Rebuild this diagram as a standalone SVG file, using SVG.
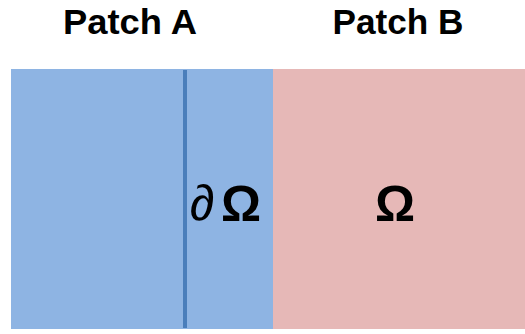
<svg xmlns="http://www.w3.org/2000/svg" width="525" height="334" viewBox="0 0 525 334">
<style>
.title{font-family:"Liberation Sans",Arial,sans-serif;font-weight:bold;font-size:35px;fill:#000;text-anchor:middle}
.sym{font-family:"Liberation Sans",Arial,sans-serif;font-size:50px;fill:#000;text-anchor:middle}
</style>
<rect width="525" height="334" fill="#fff"/>
<g id="patchA">
<rect x="11" y="69" width="262" height="260" fill="#8EB4E3"/>
<text class="title" x="130" y="34" textLength="134" lengthAdjust="spacingAndGlyphs">Patch A</text>
</g>
<g id="patchB">
<rect x="273" y="69" width="252" height="260" fill="#E6B8B7"/>
<text class="title" x="398" y="34" textLength="131" lengthAdjust="spacingAndGlyphs">Patch B</text>
<text class="sym" x="395" y="221" font-weight="bold">Ω</text>
</g>
<g id="boundary">
<line x1="185" y1="70" x2="185" y2="328" stroke="#4A7EBB" stroke-width="4"/>
<text class="sym" x="202" y="220" font-family="DejaVu Sans, sans-serif" font-weight="normal" font-size="52">∂</text>
<text class="sym" x="241" y="221" font-weight="bold">Ω</text>
</g>
<g id="connectors"></g>
</svg>
